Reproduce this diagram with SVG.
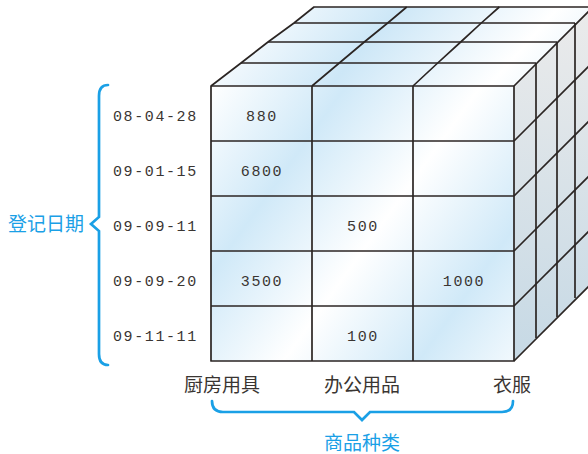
<svg xmlns="http://www.w3.org/2000/svg" width="588" height="454" viewBox="0 0 588 454">
<defs>
<linearGradient id="gFront" gradientUnits="userSpaceOnUse" x1="211" y1="86" x2="300" y2="150" spreadMethod="reflect">
<stop offset="0" stop-color="#ffffff"/>
<stop offset="1" stop-color="#d0e9f8"/>
</linearGradient>
<linearGradient id="gTop" gradientUnits="userSpaceOnUse" x1="240" y1="7" x2="330" y2="86" spreadMethod="reflect">
<stop offset="0" stop-color="#ffffff"/>
<stop offset="1" stop-color="#cde7f7"/>
</linearGradient>
<linearGradient id="gSide" gradientUnits="userSpaceOnUse" x1="0" y1="10" x2="0" y2="360">
<stop offset="0" stop-color="#ebebeb"/>
<stop offset="1" stop-color="#c6d9e5"/>
</linearGradient>
<style>
.ln{fill:none;stroke:#2b2523;stroke-width:1.7;stroke-linejoin:round}
.num{font-family:"Liberation Mono","DejaVu Sans Mono",monospace;font-size:15px;fill:#3a3532;letter-spacing:1.6px}
.cat{font-family:"Noto Sans CJK SC","Noto Sans",sans-serif;font-size:19px;fill:#3a3532}
.blue{font-family:"Noto Sans CJK SC","Noto Sans",sans-serif;font-size:19px;fill:#1aa0e6}
.brace{fill:none;stroke:#1aa0e6;stroke-width:2.7;stroke-linejoin:miter;stroke-linecap:round}
</style>
</defs>

<g id="cube">
<polygon points="211,86 241,63 268,42 294,23 314,7 592,7 514,86" fill="url(#gTop)"/>
<polygon points="514,86 592,7 592,282 514,361" fill="url(#gSide)"/>
<rect x="211" y="86" width="303" height="275" fill="url(#gFront)"/>
</g>

<g id="connectors">
<polyline class="ln" points="211,86 241,63 268,42 294,23 314,7 592,7"/>
<line class="ln" x1="241" y1="63" x2="536" y2="63"/>
<line class="ln" x1="268" y1="42" x2="557" y2="42"/>
<line class="ln" x1="294" y1="23" x2="575" y2="23"/>
<polyline class="ln" points="312,86 339.3,63 364.3,42 387.7,23 406.7,7"/>
<polyline class="ln" points="413,86 437.7,63 460.7,42 481.3,23 499.3,7"/>
<line class="ln" x1="514" y1="86" x2="593" y2="7"/>
<line class="ln" x1="514" y1="141" x2="593" y2="62"/>
<line class="ln" x1="514" y1="196" x2="593" y2="117"/>
<line class="ln" x1="514" y1="251" x2="593" y2="172"/>
<line class="ln" x1="514" y1="306" x2="593" y2="227"/>
<line class="ln" x1="514" y1="361" x2="593" y2="282"/>
<line class="ln" x1="536" y1="63" x2="536" y2="338"/>
<line class="ln" x1="557" y1="42" x2="557" y2="317"/>
<line class="ln" x1="575" y1="23" x2="575" y2="298"/>
<rect class="ln" x="211" y="86" width="303" height="275"/>
<line class="ln" x1="211" y1="141" x2="514" y2="141"/>
<line class="ln" x1="211" y1="196" x2="514" y2="196"/>
<line class="ln" x1="211" y1="251" x2="514" y2="251"/>
<line class="ln" x1="211" y1="306" x2="514" y2="306"/>
<line class="ln" x1="312" y1="86" x2="312" y2="361"/>
<line class="ln" x1="413" y1="86" x2="413" y2="361"/>
</g>

<g id="values">
<text class="num" x="262" y="121" text-anchor="middle">880</text>
<text class="num" x="262" y="176" text-anchor="middle">6800</text>
<text class="num" x="363" y="231" text-anchor="middle">500</text>
<text class="num" x="262" y="286" text-anchor="middle">3500</text>
<text class="num" x="464" y="286" text-anchor="middle">1000</text>
<text class="num" x="363" y="341" text-anchor="middle">100</text>
</g>

<g id="dates">
<text class="num" x="113" y="121">08-04-28</text>
<text class="num" x="113" y="176">09-01-15</text>
<text class="num" x="113" y="231">09-09-11</text>
<text class="num" x="113" y="286">09-09-20</text>
<text class="num" x="113" y="341">09-11-11</text>
</g>

<g id="date-axis">
<path class="brace" d="M108,85 Q99,85 99,96 L99,217 L91,224 L99,231 L99,354 Q99,365 108,365"/>
<text class="blue" x="84" y="231" text-anchor="end">登记日期</text>
</g>

<g id="categories">
<text class="cat" x="222" y="392" text-anchor="middle">厨房用具</text>
<text class="cat" x="362" y="392" text-anchor="middle">办公用品</text>
<text class="cat" x="512" y="392" text-anchor="middle">衣服</text>
</g>

<g id="category-axis">
<path class="brace" d="M212,401 Q212,412 223,412 L354,412 L362,420 L370,412 L502,412 Q513,412 513,401"/>
<text class="blue" x="362" y="450" text-anchor="middle">商品种类</text>
</g>
</svg>
